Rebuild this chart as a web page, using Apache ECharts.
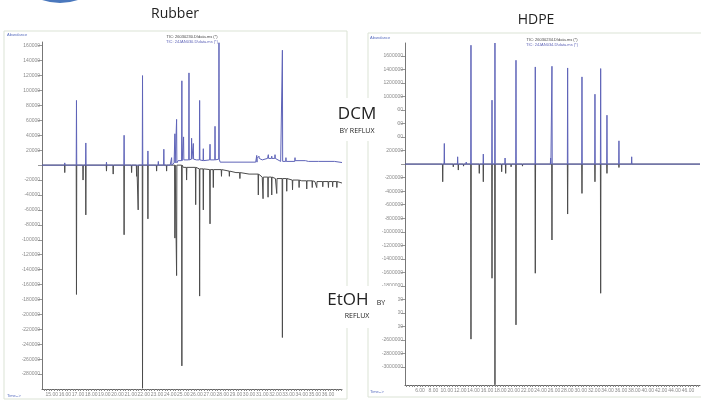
<!DOCTYPE html>
<html>
<head>
<meta charset="utf-8">
<title>Rubber / HDPE chromatograms</title>
<script src="https://cdn.jsdelivr.net/npm/echarts@6/dist/echarts.min.js"></script>
<style>
  html, body { margin: 0; padding: 0; background: #fff; }
  #main { width: 701px; height: 401px; }
</style>
</head>
<body>
<div id="main"></div>
<script>
// Rubber - baseline points [min, abundance] and peaks [min, abundance]
var rubberDcmBase = [[14.26, 0], [24.0, 0], [24.3, 3000], [24.6, 6000], [25.0, 7000], [25.5, 8000], [26.0, 7000], [26.5, 6000], [27.0, 7000], [27.5, 8000], [27.8, 4000], [30.5, 4000], [30.6, 9000], [31.0, 7000], [31.4, 9000], [32.1, 8000], [32.4, 5000], [33.5, 6000], [34.5, 5000], [37.06, 3500]]
var rubberDcmPeaks = [[15.99, 3000], [16.88, 86700], [17.59, 29700], [19.16, 4000], [20.50, 40000], [21.90, 120000], [22.31, 19000], [23.1, 5000], [23.52, 21300], [24.11, 10000], [24.36, 42000], [24.49, 61300], [24.89, 113000], [25.02, 37800], [25.43, 123600], [25.63, 36000], [25.76, 29000], [26.24, 86700], [26.52, 22000], [27.03, 28000], [27.41, 52000], [27.71, 164000], [30.58, 13000], [30.75, 12000], [31.46, 14000], [31.72, 12000], [31.97, 14000], [32.53, 154000], [32.8, 10000], [33.49, 10000], [34.3, 8000], [35.3, 7000], [36.5, 7000]]
var rubberEtohBase = [[14.26, 0], [24.0, 0], [25.0, -3000], [26.0, -5000], [27.0, -6000], [28.0, -8000], [29.0, -10000], [30.0, -12000], [31.0, -16000], [32.0, -18000], [33.0, -20000], [34.0, -21000], [35.0, -22000], [36.0, -22000], [37.06, -24000]]
var rubberEtohPeaks = [[15.99, -10000], [16.88, -173300], [17.38, -20000], [17.59, -66700], [19.16, -8000], [19.67, -12000], [20.50, -93300], [21.07, -10000], [21.45, -15000], [21.57, -60000], [21.90, -299000], [22.31, -72000], [22.97, -8000], [23.73, -8000], [24.36, -97800], [24.49, -148000], [24.89, -269000], [25.25, -20000], [25.94, -53000], [26.24, -175500], [26.52, -60000], [27.03, -78700], [27.28, -30000], [27.9, -15000], [28.5, -15000], [29.3, -18000], [30.7, -40000], [31.06, -45000], [31.44, -43000], [31.72, -40000], [32.1, -38000], [32.53, -231000], [32.86, -35000], [33.3, -33000], [33.8, -30000], [34.38, -32000], [34.8, -30000], [35.14, -30000], [35.6, -29000], [36.03, -30000], [36.35, -29000], [36.67, -30000]]

// HDPE
var hdpeDcmBase = [[3.76, 0], [47.8, 0]]
var hdpeDcmPeaks = [[5.6, 20000], [9.63, 305000], [11.62, 108000], [12.9, 30000], [13.61, 1757000], [15.45, 148000], [16.75, 945000], [17.19, 1790000], [18.7, 90000], [20.33, 1535000], [23.21, 1436000], [25.5, 90000], [25.70, 1446000], [28.04, 1421000], [30.18, 1289000], [32.12, 1033000], [32.97, 1412000], [33.91, 723000], [35.70, 344000], [37.6, 108000]]
var hdpeEtohBase = [[3.76, 0], [47.8, 0]]
var hdpeEtohPeaks = [[9.39, -261000], [10.97, -40000], [11.72, -88000], [12.5, -30000], [13.61, -2587000], [14.85, -137000], [15.45, -261000], [16.75, -1687000], [17.19, -3262000], [18.19, -113000], [18.79, -137000], [19.6, -40000], [20.33, -2376000], [21.3, -30000], [23.21, -1613000], [25.70, -1122000], [28.04, -738000], [30.18, -433000], [32.12, -261000], [32.97, -1909000], [33.91, -137000], [35.70, -50000]]

// tick labels
var rubberTimeLabels = [15, 16, 17, 18, 19, 20, 21, 22, 23, 24, 25, 26, 27, 28, 29, 30, 31, 32, 33, 34, 35, 36]
var rubberAbundLabels = [160000, 140000, 120000, 100000, 80000, 60000, 40000, 20000, 0, -20000, -40000, -60000, -80000, -100000, -120000, -140000, -160000, -180000, -200000, -220000, -240000, -260000, -280000]
var hdpeTimeLabels = [6, 8, 10, 12, 14, 16, 18, 20, 22, 24, 26, 28, 30, 32, 34, 36, 38, 40, 42, 44, 46]
var hdpeAbundLabels = [1600000, 1400000, 1200000, 1000000, 800000, 600000, 400000, 200000, 0, -200000, -400000, -600000, -800000, -1000000, -1200000, -1400000, -1600000, -1800000, -2000000, -2200000, -2400000, -2600000, -2800000, -3000000]

// turn a baseline + peak list into a line trace (narrow spikes)
function trace(base, peaks, w) {
  var pts = base.map(function (p) { return p.slice() })
  peaks.forEach(function (pk) {
    var b = base[0][1]
    base.forEach(function (p) { if (p[0] <= pk[0]) b = p[1] })
    pts.push([pk[0] - w, b], [pk[0], pk[1]], [pk[0] + w, b])
  })
  return pts.sort(function (a, c) { return a[0] - c[0] })
}

// small x ticks between labels
function fineTicks(from, to, step) {
  var out = []
  for (var v = from; v <= to + 1e-9; v += step) out.push(Math.round(v * 100) / 100)
  return out
}

var blue = '#5f64b8'
var dark = '#4c4c4c'
var small = { fontSize: 5, color: '#8a8a8a', fontFamily: 'Liberation Sans' }

function xAxisFor(idx, min, max, labels, step) {
  return {
    type: 'value', gridIndex: idx, min: min, max: max,
    axisLine: { onZero: false, lineStyle: { color: '#666', width: 1 } },
    axisTick: { customValues: fineTicks(labels[0] - step * 2, max, step / 5), length: 2, lineStyle: { color: '#888' } },
    axisLabel: Object.assign({ customValues: labels, margin: 3, formatter: function (v) { return v.toFixed(2) } }, small),
    splitLine: { show: false }
  }
}

function yAxisFor(idx, min, max, labels) {
  return {
    type: 'value', gridIndex: idx, min: min, max: max,
    axisLine: { show: true, onZero: false, lineStyle: { color: '#777', width: 1 } },
    axisTick: { customValues: labels, length: 4, lineStyle: { color: '#999' } },
    axisLabel: Object.assign({ customValues: labels, margin: 2, formatter: function (v) { return v === 0 ? '' : String(v) } }, small),
    splitLine: { show: false }
  }
}

function lineSeries(idx, data, color, z) {
  return {
    type: 'line', xAxisIndex: idx, yAxisIndex: idx, data: data,
    showSymbol: false, symbol: 'none', sampling: 'none', z: z,
    lineStyle: { color: color, width: 1 }, animation: false
  }
}

function tiny(x, y, text, color, align) {
  return { type: 'text', x: x, y: y, z: 5, style: { text: text, fill: color, fontSize: 4, fontFamily: 'Liberation Sans', align: align || 'left', verticalAlign: 'middle' } }
}

var chart = echarts.init(document.getElementById('main'), null, { renderer: 'canvas' })
var option = {
  backgroundColor: '#fff',
  animation: false,
  grid: [
    { left: 42, top: 42, width: 300, height: 347 },
    { left: 405, top: 43, width: 295, height: 342 }
  ],
  xAxis: [
    xAxisFor(0, 14.26, 37.06, rubberTimeLabels, 1),
    xAxisFor(1, 3.76, 47.8, hdpeTimeLabels, 2)
  ],
  yAxis: [
    yAxisFor(0, -300000, 165000, rubberAbundLabels),
    yAxisFor(1, -3265000, 1790000, hdpeAbundLabels)
  ],
  series: [
    lineSeries(0, trace(rubberEtohBase, rubberEtohPeaks, 0.02), dark, 2),
    lineSeries(0, trace(rubberDcmBase, rubberDcmPeaks, 0.02), blue, 3),
    lineSeries(1, trace(hdpeEtohBase, hdpeEtohPeaks, 0.04), dark, 2),
    lineSeries(1, trace(hdpeDcmBase, hdpeDcmPeaks, 0.04), blue, 3)
  ],
  graphic: [
    // logo remnant at the top
    { type: 'circle', shape: { cx: 60, cy: -52, r: 55 }, z: 1, style: { fill: '#4a78bd' } },
    // panel frames
    { type: 'rect', shape: { x: 4, y: 31, width: 343, height: 368 }, z: 0, style: { fill: 'none', stroke: '#dbe3d5', lineWidth: 1 } },
    { type: 'rect', shape: { x: 368, y: 33, width: 340, height: 364 }, z: 0, style: { fill: 'none', stroke: '#dbe3d5', lineWidth: 1 } },
    tiny(7, 35, 'Abundance', '#5a6fc0'),
    tiny(7, 396, 'Time-->', '#5a6fc0'),
    tiny(370, 38, 'Abundance', '#5a6fc0'),
    tiny(370, 392, 'Time-->', '#5a6fc0'),
    tiny(192, 37, 'TIC: 26030230.D\\data.ms (*)', '#444', 'center'),
    tiny(192, 42, 'TIC: 24JAN030.D\\data.ms (*)', blue, 'center'),
    tiny(552, 40, 'TIC: 26030234.D\\data.ms (*)', '#444', 'center'),
    tiny(552, 45, 'TIC: 24JAN034.D\\data.ms (*)', blue, 'center'),
    // panel titles
    { type: 'text', x: 175, y: 14, z: 10, style: { text: 'Rubber', fill: '#222', fontSize: 14, fontFamily: 'Open Sans', align: 'center', verticalAlign: 'middle' } },
    { type: 'text', x: 536, y: 20, z: 10, style: { text: 'HDPE', fill: '#222', fontSize: 14, fontFamily: 'Open Sans', align: 'center', verticalAlign: 'middle' } },
    // white boxes with the solvent labels
    { type: 'rect', shape: { x: 328, y: 98, width: 69, height: 43 }, z: 100, style: { fill: '#fff' } },
    { type: 'text', x: 357, y: 114, z: 101, style: { text: 'DCM', fill: '#222', fontSize: 17, fontFamily: 'Open Sans', align: 'center', verticalAlign: 'middle' } },
    { type: 'text', x: 357, y: 131, z: 101, style: { text: 'BY REFLUX', fill: '#222', fontSize: 7, fontFamily: 'Open Sans', align: 'center', verticalAlign: 'middle' } },
    { type: 'rect', shape: { x: 325, y: 286, width: 73, height: 42 }, z: 100, style: { fill: '#fff' } },
    { type: 'text', x: 348, y: 300, z: 101, style: { text: 'EtOH', fill: '#222', fontSize: 17, fontFamily: 'Open Sans', align: 'center', verticalAlign: 'middle' } },
    { type: 'text', x: 381, y: 303, z: 101, style: { text: 'BY', fill: '#222', fontSize: 7, fontFamily: 'Open Sans', align: 'center', verticalAlign: 'middle' } },
    { type: 'text', x: 357, y: 316, z: 101, style: { text: 'REFLUX', fill: '#222', fontSize: 7, fontFamily: 'Open Sans', align: 'center', verticalAlign: 'middle' } }
  ]
}
chart.setOption(option)
</script>
</body>
</html>
